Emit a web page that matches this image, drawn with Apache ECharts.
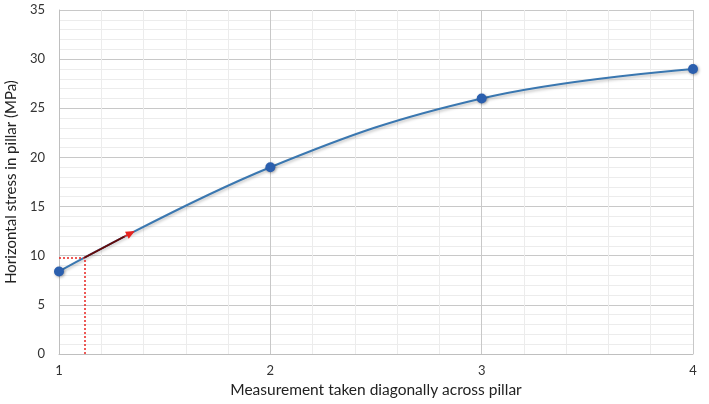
<!DOCTYPE html>
<html><head><meta charset="utf-8">
<script src="https://cdn.jsdelivr.net/npm/echarts@6/dist/echarts.min.js"></script>
<style>html,body{margin:0;padding:0;background:#fff}#c{width:709px;height:404px}</style>
</head><body><div id="c"></div>
<script>
const xValues = [1, 2, 3, 4];
const stressValues = [8.4, 19.0, 26.0, 29.0];
const guidePoint = [1.12, 9.8];
const arrowEnd = [1.34, 12.3];
const arrowShaftEnd = [1.31, 11.95];
const xAxisName = 'Measurement taken diagonally across pillar';
const yAxisName = 'Horizontal stress in pillar (MPa)';

const chart = echarts.init(document.getElementById('c'));
const font = 'Lato, Open Sans, sans-serif';
const red = '#e8231f';
chart.setOption({
  animation: false,
  grid: {left: 59, right: 16, top: 10, bottom: 50, containLabel: false, outerBoundsMode: 'none'},
  xAxis: {
    type: 'value', min: 1, max: 4, interval: 1,
    name: xAxisName, nameLocation: 'middle', nameGap: 26,
    nameTextStyle: {fontFamily: font, fontSize: 15.5, color: '#222'},
    axisLine: {show: true, lineStyle: {color: '#bfbfbf'}},
    axisTick: {show: false},
    axisLabel: {fontFamily: font, fontSize: 13, color: '#333', margin: 10},
    splitLine: {show: true, lineStyle: {color: '#c8c8c8'}},
    minorTick: {show: false, splitNumber: 5},
    minorSplitLine: {show: true, lineStyle: {color: '#ececec'}}
  },
  yAxis: {
    type: 'value', min: 0, max: 35, interval: 5,
    name: yAxisName, nameLocation: 'middle', nameGap: 33,
    nameTextStyle: {fontFamily: font, fontSize: 15, color: '#222'},
    axisLine: {show: true, lineStyle: {color: '#bfbfbf'}},
    axisTick: {show: false},
    axisLabel: {fontFamily: font, fontSize: 13, color: '#333', margin: 14},
    splitLine: {show: true, lineStyle: {color: '#c8c8c8'}},
    minorTick: {show: false, splitNumber: 5},
    minorSplitLine: {show: true, lineStyle: {color: '#ececec'}}
  },
  series: [
    {
      type: 'line', smooth: 0.4,
      data: xValues.map((x, i) => [x, stressValues[i]]),
      symbol: 'circle', symbolSize: 10,
      itemStyle: {color: '#2b5fae', shadowColor: 'rgba(0,0,0,0.35)', shadowBlur: 3, shadowOffsetX: 1, shadowOffsetY: 1},
      lineStyle: {color: '#3a77b0', width: 2, shadowColor: 'rgba(0,0,0,0.25)', shadowBlur: 3, shadowOffsetY: 2},
      z: 3,
      markLine: {
        silent: true, animation: false,
        label: {show: false},
        data: [
          [{coord: [xValues[0], guidePoint[1]], symbol: 'none'}, {coord: guidePoint, symbol: 'none', lineStyle: {color: red, type: [2, 2], width: 1.5}}],
          [{coord: [guidePoint[0], 0], symbol: 'none'}, {coord: guidePoint, symbol: 'none', lineStyle: {color: red, type: [2, 2], width: 1.5}}],
          [{coord: guidePoint, symbol: 'none'}, {coord: arrowEnd, symbol: 'triangle', symbolSize: [8, 9], lineStyle: {color: red, type: 'solid', width: 1.5}}],
          [{coord: guidePoint, symbol: 'none'}, {coord: arrowShaftEnd, symbol: 'none', lineStyle: {color: '#5a0d0d', type: 'solid', width: 1.6}}]
        ]
      }
    }
  ]
});
</script></body></html>
